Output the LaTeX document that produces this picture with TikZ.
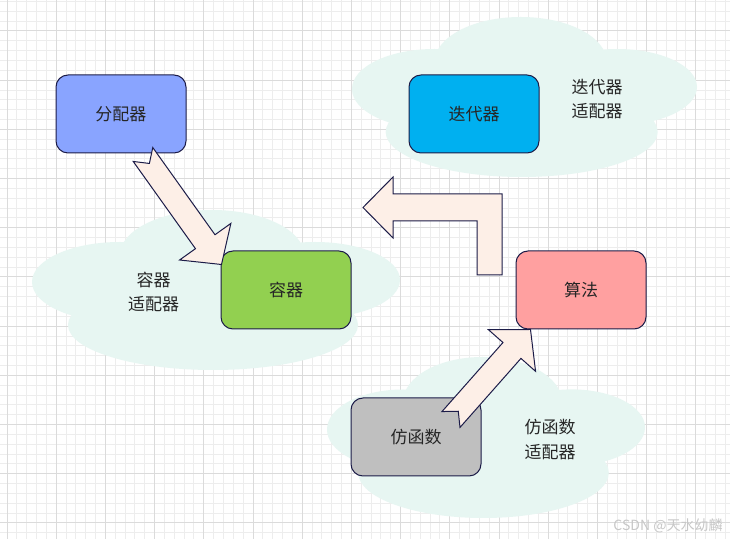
\documentclass[tikz,border=0pt]{standalone}
\usepackage{fontspec}
\setmainfont{Noto Sans CJK SC}
\usetikzlibrary{calc}

\definecolor{gridminor}{RGB}{237,237,237}
\definecolor{gridmajor}{RGB}{219,219,219}
\definecolor{cloudfill}{RGB}{231,246,242}
\definecolor{edgeblue}{RGB}{28,28,72}
\definecolor{arrowfill}{RGB}{253,239,231}
\definecolor{allocfill}{RGB}{137,164,255}
\definecolor{iterfill}{RGB}{0,176,240}
\definecolor{contfill}{RGB}{146,208,80}
\definecolor{algofill}{RGB}{255,160,160}
\definecolor{funcfill}{RGB}{191,191,191}

\begin{document}
\begin{tikzpicture}[
    x=0.5pt,
    y=-0.5pt,
    minorline/.style={gridminor, line width=0.5pt},
    majorline/.style={gridmajor, line width=0.5pt},
    cloud/.style={fill=cloudfill},
    part/.style={
        draw=edgeblue,
        rounded corners=6pt,
        line width=0.5pt,
        minimum width=65pt,
        minimum height=39pt,
        inner sep=0pt,
        text=black!85,
        font=\fontsize{8.5pt}{12.25pt}\selectfont
    },
    adapter/.style={
        align=center,
        inner sep=0pt,
        text=black!85,
        font=\fontsize{8.5pt}{12.25pt}\selectfont
    },
    blockarrow/.style={draw=edgeblue, fill=arrowfill, line width=0.5pt, line join=miter}
]

\fill[white] (0,0) rectangle (730,539);
\useasboundingbox (0,0) rectangle (730,539);

% grid
\foreach \i in {0,...,73} {\draw[minorline] ({7+9.84*\i},0) -- ({7+9.84*\i},539);}
\foreach \j in {-3,...,51} {\draw[minorline] (0,{31+9.84*\j}) -- (730,{31+9.84*\j});}
\foreach \i in {0,...,14} {\draw[majorline] ({7+49.2*\i},0) -- ({7+49.2*\i},539);}
\foreach \j in {0,...,10} {\draw[majorline] (0,{31+49.2*\j}) -- (730,{31+49.2*\j});}

% clouds
\fill[cloud] (120,282) ellipse [x radius=88, y radius=40];
\fill[cloud] (212,255) ellipse [x radius=92, y radius=45];
\fill[cloud] (315,280) ellipse [x radius=85, y radius=38];
\fill[cloud] (213,325) ellipse [x radius=145, y radius=45];

\fill[cloud] (434.5,89) ellipse [x radius=82.5, y radius=40];
\fill[cloud] (520.7,62) ellipse [x radius=86, y radius=45];
\fill[cloud] (617.3,87) ellipse [x radius=79.7, y radius=38];
\fill[cloud] (521.7,132) ellipse [x radius=136, y radius=45];

\fill[cloud] (403,429.5) ellipse [x radius=76, y radius=40];
\fill[cloud] (482.5,402) ellipse [x radius=79.5, y radius=45];
\fill[cloud] (571.5,427.4) ellipse [x radius=73.5, y radius=38];
\fill[cloud] (483.5,472.8) ellipse [x radius=125.3, y radius=45.2];

\node[adapter] (iteradapt) at (597,99) {迭代器\\适配器};
\node[adapter] (contadapt) at (153.5,292) {容器\\适配器};
\node[adapter] (funcadapt) at (550,439.5) {仿函数\\适配器};

\node[part, fill=allocfill] (alloc) at (121,114) {分配器};
\node[part, fill=iterfill] (iter) at (474,114) {迭代器};
\node[part, fill=contfill] (cont) at (286,290) {容器};
\node[part, fill=algofill] (algo) at (581,290) {算法};
\node[part, fill=funcfill] (func) at (416,437) {仿函数};

% block arrows
\coordinate (alloctail) at ($(alloc.south)+(22,1)$);
\coordinate (conthead) at ($(cont.north west)+(1,14)$);
\coordinate (functail) at ($(func.north east)+(-30.5,22)$);
\coordinate (algohead) at ($(algo.south west)+(15,0)$);

\foreach \src/\dst in {alloctail/conthead, functail/algohead} {
  \coordinate (hb) at ($(\dst)!14pt!(\src)$);
  \filldraw[blockarrow]
    ($(\src)!6pt!90:(\dst)$) -- ($(hb)!6pt!90:(\dst)$) -- ($(hb)!15.75pt!90:(\dst)$)
    -- (\dst) -- ($(hb)!15.75pt!-90:(\dst)$) -- ($(hb)!6pt!-90:(\dst)$)
    -- ($(\src)!6pt!-90:(\dst)$) -- ($(\src)!5.5pt!(\dst)$) -- cycle;
}

\coordinate (bendhead) at (363,207.5);
\filldraw[blockarrow] (bendhead) -- ++(30,-30.5) -- ++(0,17) -- ++(109,0) -- ++(0,81)
    -- ++(-25,0) -- ++(0,-54) -- ++(-84,0) -- ++(0,17) -- cycle;

\node[text=black!22, font=\fontsize{7pt}{8pt}\selectfont] (mark) at (668,526) {CSDN @天水幼麟};

\end{tikzpicture}
\end{document}
